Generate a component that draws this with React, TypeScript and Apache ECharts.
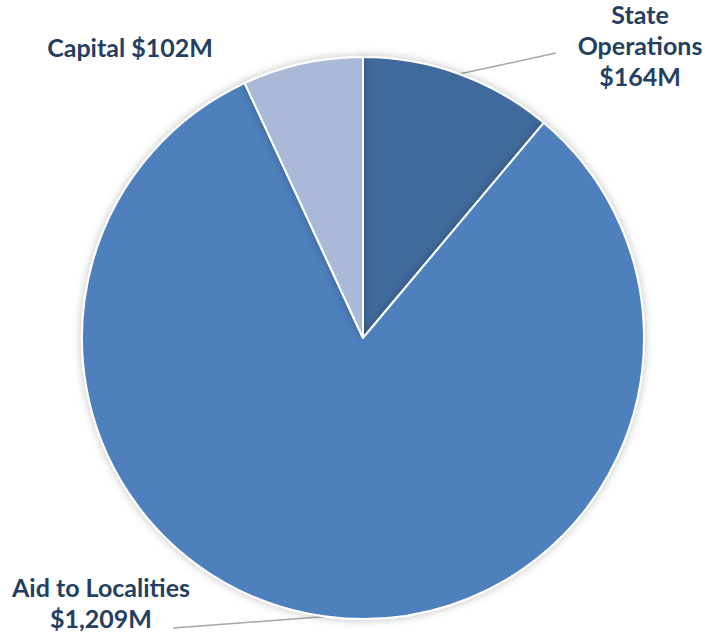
import React, { useEffect, useRef } from "react";
import * as echarts from "echarts";

const categories = ["State Operations", "Aid to Localities", "Capital"];
const values = [164, 1209, 102];
const labelTexts = ["State\nOperations\n$164M", "Aid to Localities\n$1,209M", "Capital $102M"];
const colors = ["#3F6A9B", "#4E80BC", "#A9B9D7"];

export default function App() {
  const ref = useRef<HTMLDivElement>(null);
  useEffect(() => {
    document.body.style.margin = "0";
    const chart = echarts.init(ref.current!, null, { renderer: "svg" });
    const labelPos = [
      { x: 640, y: 45, end: [556, 53] },
      { x: 101, y: 602, end: [173, 628] },
      { x: 130, y: 47, end: null as any },
    ];
    chart.setOption({
      animation: false,
      backgroundColor: "#ffffff",
      series: [
        {
          type: "pie",
          center: [363, 338],
          radius: 281,
          startAngle: 90,
          clockwise: true,
          data: categories.map((c, i) => ({
            name: c,
            value: values[i],
            itemStyle: { color: colors[i] },
            labelLine: { show: i !== 2 },
          })),
          itemStyle: {
            borderColor: "#ffffff",
            borderWidth: 2,
            shadowBlur: 8,
            shadowColor: "rgba(0,0,0,0.25)",
          },
          label: {
            show: true,
            formatter: (p: any) => labelTexts[p.dataIndex],
            fontFamily: "Lato",
            fontWeight: "bold",
            fontSize: 25,
            lineHeight: 31,
            color: "#243F60",
            align: "center",
          },
          labelLine: {
            show: true,
            lineStyle: { color: "#A6A6A6", width: 1.5 },
          },
          labelLayout: (params: any) => {
            const p = labelPos[params.dataIndex];
            const res: any = {
              x: p.x,
              y: p.y,
              align: "center",
              verticalAlign: "middle",
            };
            if (p.end && params.labelLinePoints) {
              const s = params.labelLinePoints[0];
              res.labelLinePoints = [s, p.end, p.end];
            }
            return res;
          },
          emphasis: { disabled: true },
        },
      ],
    });
    return () => chart.dispose();
  }, []);
  return <div ref={ref} style={{ width: 705, height: 634 }} />;
}
